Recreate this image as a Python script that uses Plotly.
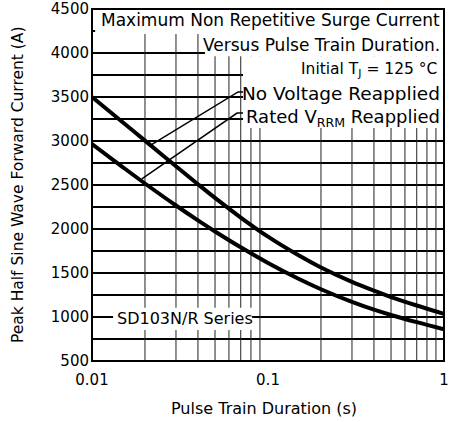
import plotly.graph_objects as go

# ---- data ----
duration = [0.01, 0.015, 0.02, 0.03, 0.04, 0.05, 0.07, 0.1, 0.15, 0.2, 0.3, 0.4, 0.5, 0.7, 1.0]
no_voltage = [3500, 3210, 3004, 2713, 2508, 2353, 2130, 1913, 1698, 1563, 1399, 1299, 1227, 1131, 1035]
rated_vrrm = [2965, 2701, 2517, 2267, 2098, 1972, 1792, 1614, 1431, 1315, 1171, 1083, 1023, 941, 860]

y_ticks = list(range(500, 4501, 250))
y_labels = [str(v) if v % 500 == 0 else "" for v in y_ticks]
x_ticks = [0.01, 0.1, 1]
x_labels = ["0.01", "0.1", "1"]
x_grid = [d * k for d in (0.01, 0.1) for k in range(2, 10)]

leader_nv_x = [0.0218, 0.0676, 0.0721]
leader_nv_y = [2960, 3557, 3557]
leader_rv_x = [0.0192, 0.0667, 0.0721]
leader_rv_y = [2570, 3318, 3318]

FONT = "DejaVu Sans"
fig = go.Figure()

# vertical log grid lines
gx, gy = [], []
for v in x_grid:
    gx += [v, v, None]
    gy += [500, 4500, None]
fig.add_trace(go.Scatter(x=gx, y=gy, mode="lines", line=dict(color="#222", width=1),
                         hoverinfo="skip", showlegend=False))

fig.add_trace(go.Scatter(x=duration, y=no_voltage, mode="lines",
                         line=dict(color="black", width=4, shape="spline", smoothing=1),
                         name="No Voltage Reapplied", showlegend=False))
fig.add_trace(go.Scatter(x=duration, y=rated_vrrm, mode="lines",
                         line=dict(color="black", width=4, shape="spline", smoothing=1),
                         name="Rated VRRM Reapplied", showlegend=False))
fig.add_trace(go.Scatter(x=leader_nv_x, y=leader_nv_y, mode="lines", line=dict(color="black", width=1.5),
                         hoverinfo="skip", showlegend=False))
fig.add_trace(go.Scatter(x=leader_rv_x, y=leader_rv_y, mode="lines", line=dict(color="black", width=1.5),
                         hoverinfo="skip", showlegend=False))

# white boxes behind the texts
boxes = [
    (0.009, 0.997, 0.929, 0.997),
    (0.321, 0.997, 0.866, 0.929),
    (0.429, 0.997, 0.662, 0.866),
    (0.060, 0.455, 0.088, 0.151),
]
for x0, x1, y0, y1 in boxes:
    fig.add_shape(type="rect", xref="paper", yref="paper", x0=x0, x1=x1, y0=y0, y1=y1,
                  fillcolor="white", line=dict(width=0), layer="above")
fig.add_shape(type="rect", xref="paper", yref="paper", x0=0, x1=1, y0=0, y1=1,
              line=dict(color="black", width=2), layer="above")


def label(text, x, y, size, anchor="right"):
    fig.add_annotation(text=text, x=x, y=y, xref="paper", yref="paper", showarrow=False,
                       xanchor=anchor, yanchor="middle",
                       font=dict(family=FONT, size=size, color="black"))


label("Maximum Non Repetitive Surge Current", 0.993, 0.969, 17)
label("Versus Pulse Train Duration.", 0.993, 0.898, 17)
label("Initial T<sub>J</sub> = 125 °C", 0.987, 0.827, 15.5)
label("No Voltage Reapplied", 0.993, 0.761, 18.5)
label("Rated V<sub>RRM</sub> Reapplied", 0.993, 0.690, 18)
label("SD103N/R Series", 0.065, 0.122, 16, anchor="left")

fig.add_annotation(text="Peak Half Sine Wave Forward Current (A)", xref="paper", yref="paper",
                   x=-0.21, y=0.5, textangle=-90, showarrow=False, xanchor="center", yanchor="middle",
                   font=dict(family=FONT, size=15.5, color="black"))
fig.add_annotation(text="Pulse Train Duration (s)", xref="paper", yref="paper",
                   x=0.49, y=-0.134, showarrow=False, xanchor="center", yanchor="middle",
                   font=dict(family=FONT, size=16, color="black"))

fig.update_xaxes(type="log", range=[-2, 0], tickvals=x_ticks, ticktext=x_labels, showgrid=False,
                 zeroline=False, ticks="", showline=False, automargin=False, ticklabelstandoff=8,
                 tickfont=dict(family=FONT, size=15, color="black"))
fig.update_yaxes(range=[500, 4500], tickvals=y_ticks, ticktext=y_labels, showgrid=True,
                 gridcolor="black", gridwidth=1.5, zeroline=False, ticks="", showline=False,
                 automargin=False, ticklabelstandoff=2,
                 tickfont=dict(family=FONT, size=15, color="black"))

fig.update_layout(width=461, height=422, margin=dict(l=92, r=17, t=9, b=61),
                  paper_bgcolor="white", plot_bgcolor="white", showlegend=False)
fig.write_html("out.html")
